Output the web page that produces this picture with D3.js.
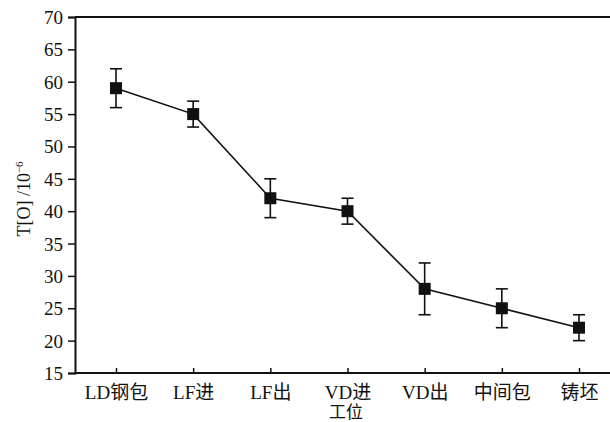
<!DOCTYPE html>
<html lang="zh">
<head>
<meta charset="UTF-8">
<title>T[O] 工位</title>
<script src="https://cdn.jsdelivr.net/npm/d3@7"></script>
<style>
  body { margin: 0; background: #fff; }
  text { font-family: "Liberation Serif", "Times New Roman", "Noto Sans CJK SC", serif; fill: #111; }
</style>
</head>
<body>
<svg id="chart" width="610" height="422"></svg>
<script>
  // 数据
  const stations = ["LD钢包", "LF进", "LF出", "VD进", "VD出", "中间包", "铸坯"];
  const means = [59, 55, 42, 40, 28, 25, 22];
  const lows = [56, 53, 39, 38, 24, 22, 20];
  const highs = [62, 57, 45, 42, 32, 28, 24];
  const yTicks = [15, 20, 25, 30, 35, 40, 45, 50, 55, 60, 65, 70];

  const svg = d3.select("#chart");
  const plotLeft = 75, plotTop = 17, plotBottom = 373, plotRight = 640;

  const x = d3.scalePoint()
      .domain(stations)
      .range([116, 579]);
  const y = d3.scaleLinear()
      .domain([15, 70])
      .range([plotBottom, plotTop]);

  // y 轴
  const yAxis = svg.append("g")
      .attr("transform", `translate(${plotLeft},0)`)
      .call(d3.axisLeft(y).tickValues(yTicks).tickSize(7).tickPadding(5));
  yAxis.select(".domain").attr("stroke", "#111").attr("stroke-width", 2);
  yAxis.selectAll(".tick line").attr("stroke", "#111").attr("stroke-width", 1.5);
  yAxis.selectAll(".tick text").style("font-size", "19px").attr("dy", "0.34em");

  // x 轴，刻度朝内
  const xAxis = svg.append("g")
      .attr("transform", `translate(0,${plotBottom})`)
      .call(d3.axisBottom(x).tickSizeInner(-5).tickSizeOuter(0).tickPadding(13));
  xAxis.select(".domain").attr("d", `M${plotLeft},0H${plotRight}`).attr("stroke", "#111").attr("stroke-width", 2);
  xAxis.selectAll(".tick line").attr("stroke", "#111").attr("stroke-width", 1.5);
  xAxis.selectAll(".tick text").style("font-size", "19px");

  // 上边框
  svg.append("line")
      .attr("x1", plotLeft).attr("x2", plotRight)
      .attr("y1", plotTop).attr("y2", plotTop)
      .attr("stroke", "#111").attr("stroke-width", 2);

  // 折线
  const pts = stations.map((s, i) => ({ s, v: means[i], lo: lows[i], hi: highs[i] }));
  svg.append("path")
      .datum(pts)
      .attr("fill", "none")
      .attr("stroke", "#111")
      .attr("stroke-width", 1.6)
      .attr("d", d3.line().x(d => x(d.s)).y(d => y(d.v)));

  // 误差棒
  const err = svg.append("g").attr("stroke", "#111").attr("stroke-width", 1.6);
  err.selectAll(".v").data(pts).enter().append("line")
      .attr("x1", d => x(d.s)).attr("x2", d => x(d.s))
      .attr("y1", d => y(d.lo)).attr("y2", d => y(d.hi));
  err.selectAll(".hi").data(pts).enter().append("line")
      .attr("x1", d => x(d.s) - 6).attr("x2", d => x(d.s) + 6)
      .attr("y1", d => y(d.hi)).attr("y2", d => y(d.hi));
  err.selectAll(".lo").data(pts).enter().append("line")
      .attr("x1", d => x(d.s) - 6).attr("x2", d => x(d.s) + 6)
      .attr("y1", d => y(d.lo)).attr("y2", d => y(d.lo));

  // 方块标记
  svg.append("g").selectAll("rect").data(pts).enter().append("rect")
      .attr("x", d => x(d.s) - 6).attr("y", d => y(d.v) - 6)
      .attr("width", 12).attr("height", 12)
      .attr("fill", "#111");

  // 轴标题
  const yl = svg.append("text")
      .attr("transform", "translate(30,199) rotate(-90)")
      .attr("text-anchor", "middle")
      .style("font-size", "18px");
  yl.append("tspan").text("T[O] /10");
  yl.append("tspan").attr("dy", "-7").style("font-size", "11px").text("−6");

  svg.append("text")
      .attr("x", 346).attr("y", 418)
      .attr("text-anchor", "middle")
      .style("font-size", "17px")
      .text("工位");
</script>
</body>
</html>
